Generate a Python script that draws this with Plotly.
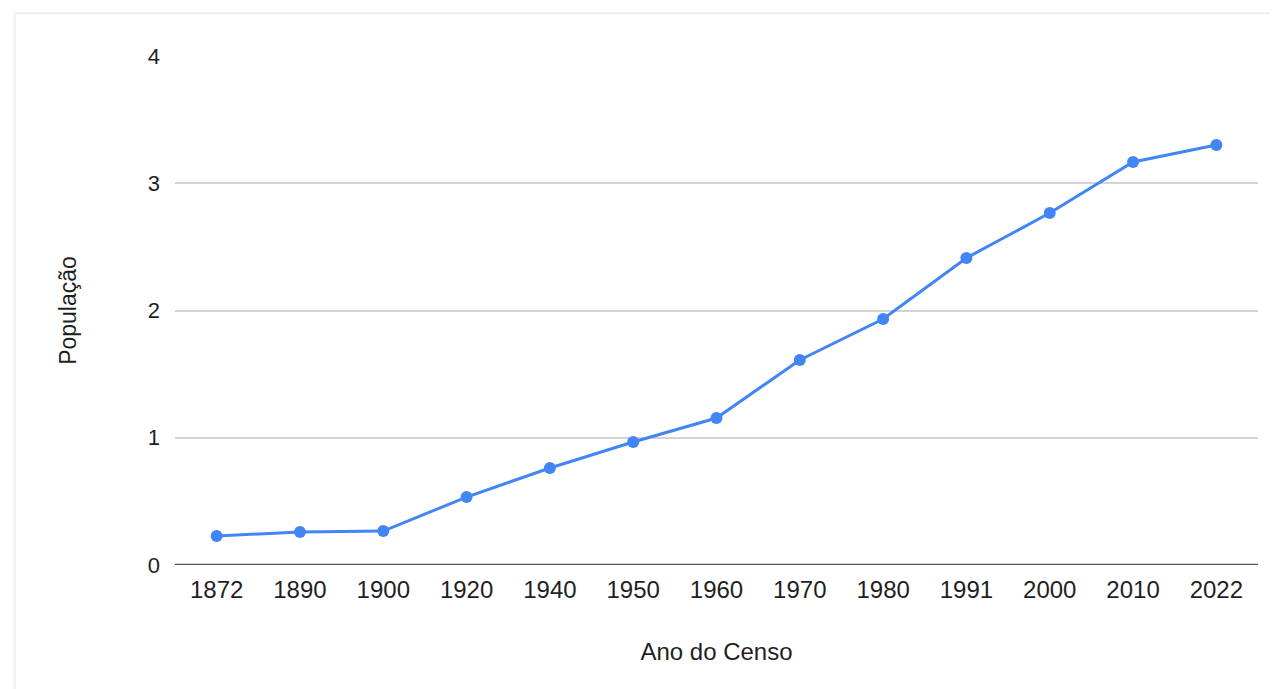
import plotly.graph_objects as go

anos = ["1872", "1890", "1900", "1920", "1940", "1950", "1960", "1970", "1980", "1991", "2000", "2010", "2022"]
populacao = [0.228, 0.26, 0.267, 0.534, 0.762, 0.967, 1.155, 1.611, 1.933, 2.413, 2.766, 3.167, 3.30]
y_ticks = [0, 1, 2, 3, 4]

FONT = "Arial, Liberation Sans, sans-serif"

fig = go.Figure()
fig.add_trace(go.Scatter(
    x=anos, y=populacao, mode="lines+markers",
    line=dict(color="#4285F4", width=3),
    marker=dict(color="#4285F4", size=12),
    showlegend=False,
))

fig.update_layout(
    width=1278, height=689,
    margin=dict(l=167, r=28, t=48, b=132),
    paper_bgcolor="white", plot_bgcolor="white",
    font=dict(family=FONT, size=22, color="#1f1f1f"),
    xaxis=dict(
        type="category", range=[-0.5, 12.5],
        showgrid=False, showline=False, zeroline=False,
        ticks="", ticklabelstandoff=8,
        tickfont=dict(size=24, color="#1f1f1f"),
        title=dict(text="Ano do Censo", font=dict(size=24, color="#1f1f1f"), standoff=41),
    ),
    yaxis=dict(
        range=[0, 4], tickvals=y_ticks,
        showgrid=True, gridcolor="#d3d3d3", gridwidth=1.5,
        zeroline=False, showline=False, ticks="",
        ticklabelstandoff=14,
        tickfont=dict(size=22, color="#1f1f1f"),
        title=dict(text="População", font=dict(size=23, color="#1f1f1f"), standoff=64),
    ),
)

# dark baseline at zero
fig.add_shape(type="line", xref="paper", yref="y", x0=0, x1=1, y0=0, y1=0,
              line=dict(color="#555555", width=2.5))
# faint outer frame
fig.add_shape(type="line", xref="paper", yref="paper", x0=-0.148, x1=1.03, y0=1.084, y1=1.084,
              line=dict(color="#f0f0f0", width=2))
fig.add_shape(type="line", xref="paper", yref="paper", x0=-0.148, x1=-0.148, y0=1.084, y1=-0.27,
              line=dict(color="#f0f0f0", width=2))

fig.write_html("out.html")
